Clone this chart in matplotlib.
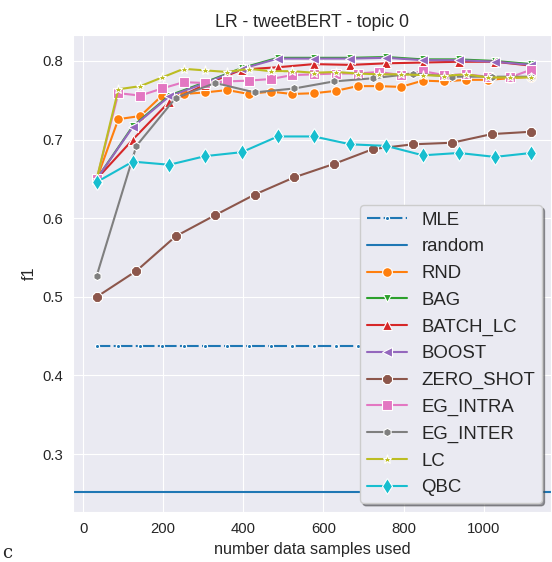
import numpy as np
import matplotlib
matplotlib.use("Agg")
import matplotlib.pyplot as plt
import seaborn as sns

sns.set_style("darkgrid")
plt.rcParams['font.family'] = ['Liberation Sans', 'DejaVu Sans']

# x positions (samples used) for the three sampling schedules
x21 = [34, 88, 143, 197, 251, 305, 360, 414, 468, 522, 577, 631, 685, 739, 793, 848, 902, 956, 1010, 1065, 1119]
x13 = [34, 124, 215, 305, 396, 486, 576, 667, 757, 848, 938, 1028, 1119]
x12 = [34, 133, 231, 330, 428, 527, 626, 724, 823, 921, 1020, 1119]

mle = [0.438, 0.438, 0.438, 0.438, 0.438, 0.438, 0.438, 0.438, 0.438, 0.438, 0.438,
       0.438, 0.438, 0.438, 0.438, 0.438, 0.438, 0.438, 0.438, 0.438, 0.438]
random_f1 = 0.252
rnd = [0.650, 0.726, 0.730, 0.756, 0.758, 0.760, 0.763, 0.758, 0.761, 0.758, 0.759,
       0.762, 0.768, 0.768, 0.767, 0.775, 0.774, 0.776, 0.776, 0.778, 0.780]
bag = [0.650, 0.717, 0.756, 0.773, 0.791, 0.804, 0.804, 0.804, 0.805, 0.802, 0.802, 0.800, 0.796]
batch_lc = [0.650, 0.700, 0.748, 0.770, 0.789, 0.792, 0.796, 0.795, 0.797, 0.798, 0.799, 0.799, 0.794]
boost = [0.650, 0.716, 0.755, 0.772, 0.790, 0.803, 0.803, 0.803, 0.804, 0.801, 0.801, 0.799, 0.795]
zero_shot = [0.500, 0.533, 0.577, 0.604, 0.630, 0.652, 0.669, 0.688, 0.694, 0.696, 0.707, 0.710]
eg_intra = [0.650, 0.759, 0.756, 0.765, 0.773, 0.772, 0.774, 0.775, 0.777, 0.782, 0.783,
            0.784, 0.784, 0.786, 0.782, 0.787, 0.782, 0.783, 0.780, 0.779, 0.789]
eg_inter = [0.527, 0.692, 0.753, 0.772, 0.760, 0.765, 0.774, 0.778, 0.784, 0.780, 0.780, 0.780]
lc = [0.650, 0.764, 0.768, 0.779, 0.790, 0.788, 0.786, 0.790, 0.787, 0.787, 0.785,
      0.786, 0.784, 0.783, 0.783, 0.782, 0.781, 0.783, 0.779, 0.779, 0.779]
qbc = [0.646, 0.672, 0.668, 0.679, 0.684, 0.704, 0.704, 0.694, 0.692, 0.680, 0.683, 0.678, 0.683]

fig = plt.figure(figsize=(5.52, 5.62), dpi=100)
ax = fig.add_axes([0.1317, 0.0884, 0.8665, 0.8493])

kw = dict(lw=1.5, mec='white', mew=0.8)
ax.plot(x21, mle, '-.', marker='.', color='C0', ms=6, label='MLE', **kw)
ax.axhline(random_f1, color='C0', lw=1.5, label='random')
ax.plot(x21, rnd, '-', marker='o', color='C1', ms=7, label='RND', **kw)
ax.plot(x13, bag, '-', marker='v', color='C2', ms=6, label='BAG', **kw)
ax.plot(x13, batch_lc, '-', marker='^', color='C3', ms=7, label='BATCH_LC', **kw)
ax.plot(x13, boost, '-', marker='<', color='C4', ms=7.5, label='BOOST', **kw)
ax.plot(x12, zero_shot, '-', marker='8', color='C5', ms=7.5, label='ZERO_SHOT', **kw)
ax.plot(x21, eg_intra, '-', marker='s', color='C6', ms=7, label='EG_INTRA', **kw)
ax.plot(x12, eg_inter, '-', marker='h', color='C7', ms=6, label='EG_INTER', **kw)
ax.plot(x21, lc, '-', marker='*', color='C8', ms=6.5, label='LC', **kw)
ax.plot(x13, qbc, '-', marker='d', color='C9', ms=8, label='QBC', **kw)

ax.set_xlim(-26, 1168)
ax.set_ylim(0.226, 0.833)
ax.set_xticks([0, 200, 400, 600, 800, 1000])
ax.set_yticks([0.3, 0.4, 0.5, 0.6, 0.7, 0.8])
ax.tick_params(labelsize=10.7, colors='0.15')

ax.set_title('LR - tweetBERT - topic 0', fontsize=12.7, color='0.15')
ax.set_xlabel('number data samples used', fontsize=11.7, color='0.15')
ax.set_ylabel('f1', fontsize=11.7, color='0.15')

ax.legend(loc='lower right', shadow=True, fontsize=13.4, labelspacing=0.52,
          handlelength=2.2, borderpad=0.35, handletextpad=0.75, numpoints=1)

fig.text(0.003, 0.008, 'c', fontsize=13, family='DejaVu Serif', ha='left', va='baseline')

fig.savefig('out.png', dpi=100)
